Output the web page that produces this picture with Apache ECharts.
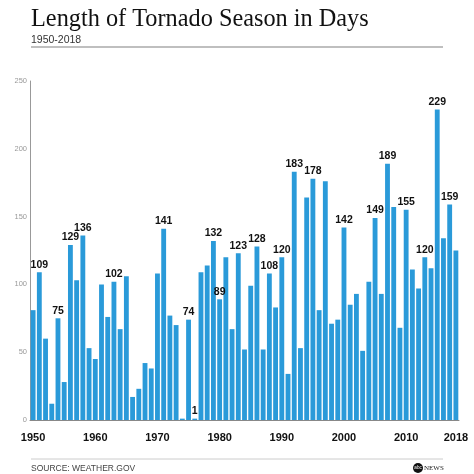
<!DOCTYPE html>
<html>
<head>
<meta charset="utf-8">
<script src="https://cdn.jsdelivr.net/npm/echarts@6/dist/echarts.min.js"></script>
<style>
  html, body { margin: 0; padding: 0; background: #fff; }
  #main { width: 474px; height: 474px; }
</style>
</head>
<body>
<div id="main"></div>
<script>
// years 1950-2018
var years = [];
for (var y = 1950; y <= 2018; y++) { years.push(String(y)); }

// length of season in days
var days = [
  81, 109, 60, 12, 75, 28, 129, 103, 136, 53,
  45, 100, 76, 102, 67, 106, 17, 23, 42, 38,
  108, 141, 77, 70, 1, 74, 1, 109, 114, 132,
  89, 120, 67, 123, 52, 99, 128, 52, 108, 83,
  120, 34, 183, 53, 164, 178, 81, 176, 71, 74,
  142, 85, 93, 51, 102, 149, 93, 189, 157, 68,
  155, 111, 97, 120, 112, 229, 134, 159, 125
];

// years that carry a value label
var labelledYears = [
  '1951', '1954', '1956', '1958', '1963', '1971', '1975', '1976', '1979', '1980',
  '1983', '1986', '1988', '1990', '1992', '1995', '2000', '2005', '2007', '2010',
  '2013', '2015', '2017'
];

// x tick labels
var tickYears = ['1950', '1960', '1970', '1980', '1990', '2000', '2010', '2018'];

var yTicks = [0, 50, 100, 150, 200, 250];

var barData = [];
for (var i = 0; i < days.length; i++) {
  var item = { value: days[i] };
  if (labelledYears.indexOf(years[i]) >= 0) {
    item.label = { show: true };
  }
  barData.push(item);
}

var myChart = echarts.init(document.getElementById('main'));

var option = {
  backgroundColor: '#fff',
  animation: false,
  title: {
    text: 'Length of Tornado Season in Days',
    subtext: '1950-2018',
    left: 31,
    top: 8,
    padding: 0,
    itemGap: 3,
    textStyle: {
      fontFamily: 'Liberation Serif',
      fontSize: 24.3,
      fontWeight: 'normal',
      color: '#111'
    },
    subtextStyle: {
      fontFamily: 'Liberation Sans',
      fontSize: 10.5,
      color: '#333'
    }
  },
  grid: { left: 30, right: 15, top: 81, bottom: 54 },
  xAxis: {
    type: 'category',
    data: years,
    axisTick: { show: false },
    axisLine: { lineStyle: { color: '#888', width: 1 } },
    axisLabel: {
      interval: function (idx, val) { return tickYears.indexOf(val) >= 0; },
      margin: 12,
      fontFamily: 'Liberation Sans',
      fontWeight: 'bold',
      fontSize: 11,
      color: '#111'
    }
  },
  yAxis: {
    type: 'value',
    min: 0,
    max: 250,
    interval: 50,
    splitLine: { show: false },
    axisTick: { show: false },
    axisLine: { show: true, lineStyle: { color: '#999', width: 1 } },
    axisLabel: {
      margin: 3,
      fontFamily: 'Liberation Sans',
      fontSize: 7.5,
      color: '#999',
      formatter: function (v) { return yTicks.indexOf(v) >= 0 ? String(v) : ''; }
    }
  },
  series: [{
    type: 'bar',
    data: barData,
    barCategoryGap: '22%',
    itemStyle: { color: '#2a9ad9' },
    label: {
      show: false,
      position: 'top',
      distance: 2,
      fontFamily: 'Liberation Sans',
      fontWeight: 'bold',
      fontSize: 10.5,
      color: '#111'
    }
  }],
  graphic: [
    { type: 'line', shape: { x1: 31, y1: 47, x2: 443, y2: 47 },
      style: { stroke: '#aaa', lineWidth: 1.5 } },
    { type: 'line', shape: { x1: 31, y1: 459, x2: 443, y2: 459 },
      style: { stroke: '#ccc', lineWidth: 1 } },
    { type: 'text', left: 31, top: 464,
      style: { text: 'SOURCE: WEATHER.GOV', fontFamily: 'Liberation Sans',
               fontSize: 8.5, fill: '#444' } },
    { type: 'circle', shape: { cx: 418, cy: 468, r: 5 },
      style: { fill: '#111' } },
    { type: 'text', x: 418, y: 468,
      style: { text: 'abc', fontFamily: 'Liberation Sans', fontSize: 4.5,
               fill: '#fff', align: 'center', verticalAlign: 'middle' } },
    { type: 'text', x: 424, y: 468,
      style: { text: 'NEWS', fontFamily: 'Liberation Serif', fontSize: 7,
               fill: '#222', verticalAlign: 'middle' } }
  ]
};

myChart.setOption(option);
</script>
</body>
</html>
